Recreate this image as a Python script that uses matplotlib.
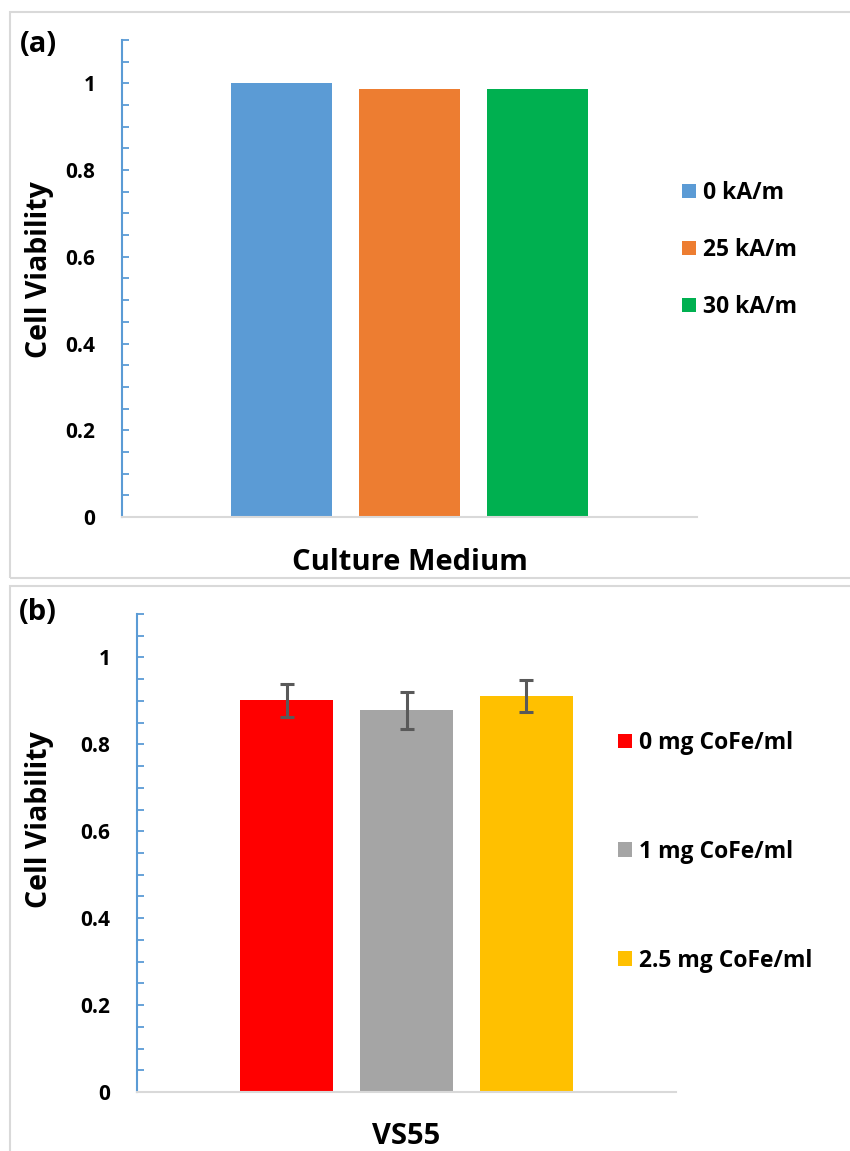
import matplotlib
matplotlib.use("Agg")
import matplotlib.pyplot as plt
from matplotlib.patches import Rectangle
from matplotlib.ticker import MultipleLocator, FuncFormatter

# ---- data ----
cat_a = "Culture Medium"
labels_a = ["0 kA/m", "25 kA/m", "30 kA/m"]
values_a = [1.0, 0.988, 0.988]
colors_a = ["#5B9BD5", "#ED7D31", "#00B050"]

cat_b = "VS55"
labels_b = ["0 mg CoFe/ml", "1 mg CoFe/ml", "2.5 mg CoFe/ml"]
values_b = [0.901, 0.878, 0.912]
errors_b = [0.039, 0.043, 0.037]
colors_b = ["#FF0000", "#A5A5A5", "#FFC000"]

FONT = ["Open Sans", "DejaVu Sans"]
plt.rcParams['font.family'] = FONT
plt.rcParams['font.weight'] = 'bold'

W, H = 850, 1151
fig = plt.figure(figsize=(W / 100, H / 100), dpi=100)


def fx(px):
    return px / W


def fy(py):
    return 1 - py / H


# panel borders
for (top, bot) in [(12, 578), (586, 1160)]:
    fig.patches.append(Rectangle((fx(10), fy(bot)), fx(860) - fx(10), fy(top) - fy(bot),
                                 transform=fig.transFigure, fill=False,
                                 edgecolor="#D9D9D9", linewidth=1.5))

BAR_W = 0.174
STEP = 0.2226


def fmt(v, pos):
    if abs(v) < 1e-9:
        return "0"
    if abs(v - round(v)) < 1e-9:
        return "%d" % round(v)
    return ("%.1f" % v)


def make_panel(left, right, top, bottom, vals, cols, labs, errs, cat,
               tag, tag_y, xlab_y, ylab_cy, leg_anchor, leg_spacing):
    ax = fig.add_axes([fx(left), fy(bottom), fx(right) - fx(left), fy(top) - fy(bottom)])
    n = len(vals)
    offsets = [(i - (n - 1) / 2) * STEP for i in range(n)]
    handles = []
    for i, (v, c, l) in enumerate(zip(vals, cols, labs)):
        b = ax.bar(offsets[i], v, width=BAR_W, color=c, label=l, zorder=2)
        handles.append(b)
        if errs is not None:
            ax.errorbar(offsets[i], v, yerr=errs[i], fmt='none', ecolor="#595959",
                        elinewidth=2.2, capsize=5, capthick=2.2, zorder=3)
    ax.set_xlim(-0.5, 0.5)
    ax.set_ylim(0, 1.1)
    ax.yaxis.set_major_locator(MultipleLocator(0.2))
    ax.yaxis.set_minor_locator(MultipleLocator(0.05))
    ax.yaxis.set_major_formatter(FuncFormatter(fmt))
    ax.set_xticks([])
    for s in ['top', 'right']:
        ax.spines[s].set_visible(False)
    ax.spines['left'].set_color("#5B9BD5")
    ax.spines['left'].set_linewidth(1.5)
    ax.spines['bottom'].set_color("#D9D9D9")
    ax.spines['bottom'].set_linewidth(1.5)
    ax.tick_params(axis='y', which='both', direction='in', length=5, width=1.3,
                   color="#5B9BD5", pad=19, labelsize=15)
    for t in ax.get_yticklabels():
        t.set_fontweight('bold')
    fig.text(fx(40), fy(ylab_cy), "Cell Viability", rotation=90, ha='center', va='center',
             fontsize=20.5, fontweight='bold')
    fig.text(fx((left + right) / 2), fy(xlab_y), cat, ha='center', va='center',
             fontsize=21, fontweight='bold')
    fig.text(fx(38), fy(tag_y), tag, ha='center', va='center', fontsize=21, fontweight='bold')
    ax.legend(handles=handles, loc='upper left',
              bbox_to_anchor=(fx(leg_anchor[0]), fy(leg_anchor[1])),
              bbox_transform=fig.transFigure, frameon=False,
              prop={'family': FONT, 'weight': 'bold', 'size': 16.5},
              handlelength=0.62, handleheight=0.62, handletextpad=0.3,
              labelspacing=leg_spacing, borderpad=0, borderaxespad=0)
    return ax


make_panel(122, 697, 40, 517, values_a, colors_a, labels_a, None, cat_a,
           "(a)", 44, 563, 270, (682, 181), 1.44)
make_panel(137, 676, 614, 1092, values_b, colors_b, labels_b, errors_b, cat_b,
           "(b)", 612, 1136, 820, (618, 731), 3.7)

fig.savefig("out.png", dpi=100)
